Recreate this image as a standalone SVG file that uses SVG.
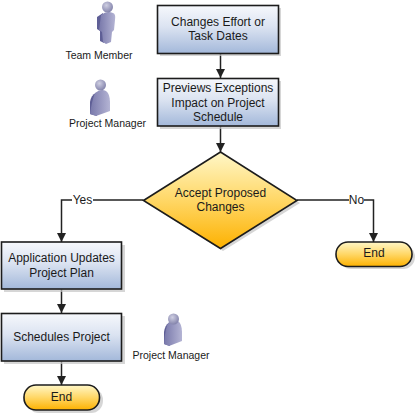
<svg xmlns="http://www.w3.org/2000/svg" width="416" height="415" viewBox="0 0 416 415">
<style>
text{font-family:"Liberation Sans",Arial,sans-serif;font-size:12px;fill:#1a1a1a;text-anchor:middle}
text.p{font-size:10.500px}
.b{fill:url(#bl);stroke:#1c1c1c;stroke-width:1.600}
.y{fill:url(#ye);stroke:#1c1c1c;stroke-width:1.600}
.s{fill:#c4c4c4;opacity:.7}
.c{fill:none;stroke:#222;stroke-width:1.500}
.hd{fill:url(#head)}.bd{fill:url(#body)}.sd{fill:#5f5f96}
</style>
<defs>
<linearGradient id="bl" x1="0" y1="0" x2="0" y2="1"><stop offset="0" stop-color="#f6f8fc"/><stop offset=".45" stop-color="#dbe3f1"/><stop offset="1" stop-color="#a3b8da"/></linearGradient>
<linearGradient id="ye" x1="0" y1="0" x2="0" y2="1"><stop offset="0" stop-color="#fff7c8"/><stop offset=".5" stop-color="#ffd766"/><stop offset="1" stop-color="#fdb100"/></linearGradient>
<linearGradient id="body" x1="0" y1="0" x2="1" y2="0"><stop offset="0" stop-color="#7878aa"/><stop offset="1" stop-color="#b4b4d4"/></linearGradient>
<radialGradient id="head" cx=".4" cy=".35" r=".7"><stop offset="0" stop-color="#cfcfe2"/><stop offset="1" stop-color="#7f7fa8"/></radialGradient>
<marker id="a" markerUnits="userSpaceOnUse" markerWidth="10" markerHeight="9" refX="9" refY="4.500" orient="auto"><path d="M0 0L9 4.500L0 9z" fill="#222"/></marker>
</defs>
<g id="connectors">
<path class="c" d="M220.500 53V78" marker-end="url(#a)"/>
<path class="c" d="M220.500 126V152" marker-end="url(#a)"/>
<path class="c" d="M143.500 200H61.500V242" marker-end="url(#a)"/>
<path class="c" d="M297 200H373.500V242" marker-end="url(#a)"/>
<path class="c" d="M61.500 289V313" marker-end="url(#a)"/>
<path class="c" d="M61.500 361V385" marker-end="url(#a)"/>
<rect x="72" y="193" width="21" height="14" fill="#fff"/>
<text x="82.500" y="204">Yes</text>
<rect x="349" y="193" width="15" height="14" fill="#fff"/>
<text x="356.500" y="204">No</text>
</g>
<g id="team-member">
<path class="sd" d="M97 17L103 13L104 43L100 41L100 31L97 29z"/>
<path class="bd" d="M101 15Q107 10 113 13Q116 14 115 20L114 30L112 32L111 42L106 44L103 42L102 32L99 30z"/>
<circle class="hd" cx="107.500" cy="7" r="5.500"/>
<text class="p" x="99" y="59">Team Member</text>
</g>
<g id="project-manager-1">
<path class="sd" d="M90 114L90 102Q91 95 96 93L97 116z"/>
<path class="bd" d="M95 93Q101 88 106 91Q110 94 110 102L110 111L96 116L90 114Q92 100 95 93z"/>
<circle class="hd" cx="100.500" cy="85" r="5.500"/>
<text class="p" x="107.500" y="127">Project Manager</text>
</g>
<g id="project-manager-2">
<path class="sd" d="M164 344L164 332Q165 325 169 323L170 346z"/>
<path class="bd" d="M168 323Q174 318 178 321Q182 324 182 332L182 341L169 346L164 344Q165 330 168 323z"/>
<circle class="hd" cx="173.500" cy="319" r="5.500"/>
<text class="p" x="171" y="359">Project Manager</text>
</g>
<g id="changes-effort">
<rect class="s" x="160" y="8" width="121" height="48"/>
<rect class="b" x="157.500" y="5.500" width="121" height="48"/>
<text x="218" y="26">Changes Effort or</text>
<text x="218" y="40">Task Dates</text>
</g>
<g id="previews-exceptions">
<rect class="s" x="160" y="81" width="121" height="48"/>
<rect class="b" x="157.500" y="78.500" width="121" height="47.500"/>
<text x="218" y="92">Previews Exceptions</text>
<text x="218" y="107">Impact on Project</text>
<text x="218" y="121">Schedule</text>
</g>
<g id="accept-proposed">
<path class="s" d="M146 203L223 155L300 203L223 251z"/>
<path class="y" d="M143.500 200.500L220.500 152L297 200.500L220.500 248.500z"/>
<text x="220.500" y="197">Accept Proposed</text>
<text x="220.500" y="211">Changes</text>
</g>
<g id="end-right">
<rect class="s" x="339" y="245" width="76" height="24" rx="12"/>
<rect class="y" x="336" y="242" width="76" height="24.500" rx="12"/>
<text x="374" y="257">End</text>
</g>
<g id="application-updates">
<rect class="s" x="4" y="245" width="121" height="47"/>
<rect class="b" x="1.500" y="242" width="120" height="47"/>
<text x="61.500" y="262">Application Updates</text>
<text x="61.500" y="277">Project Plan</text>
</g>
<g id="schedules-project">
<rect class="s" x="4" y="316" width="121" height="48"/>
<rect class="b" x="1.500" y="313.500" width="120" height="47.500"/>
<text x="61.500" y="341">Schedules Project</text>
</g>
<g id="end-bottom">
<rect class="s" x="27" y="388" width="76" height="25" rx="12"/>
<rect class="y" x="24" y="385" width="75.500" height="25" rx="12"/>
<text x="61.500" y="401">End</text>
</g>
</svg>
